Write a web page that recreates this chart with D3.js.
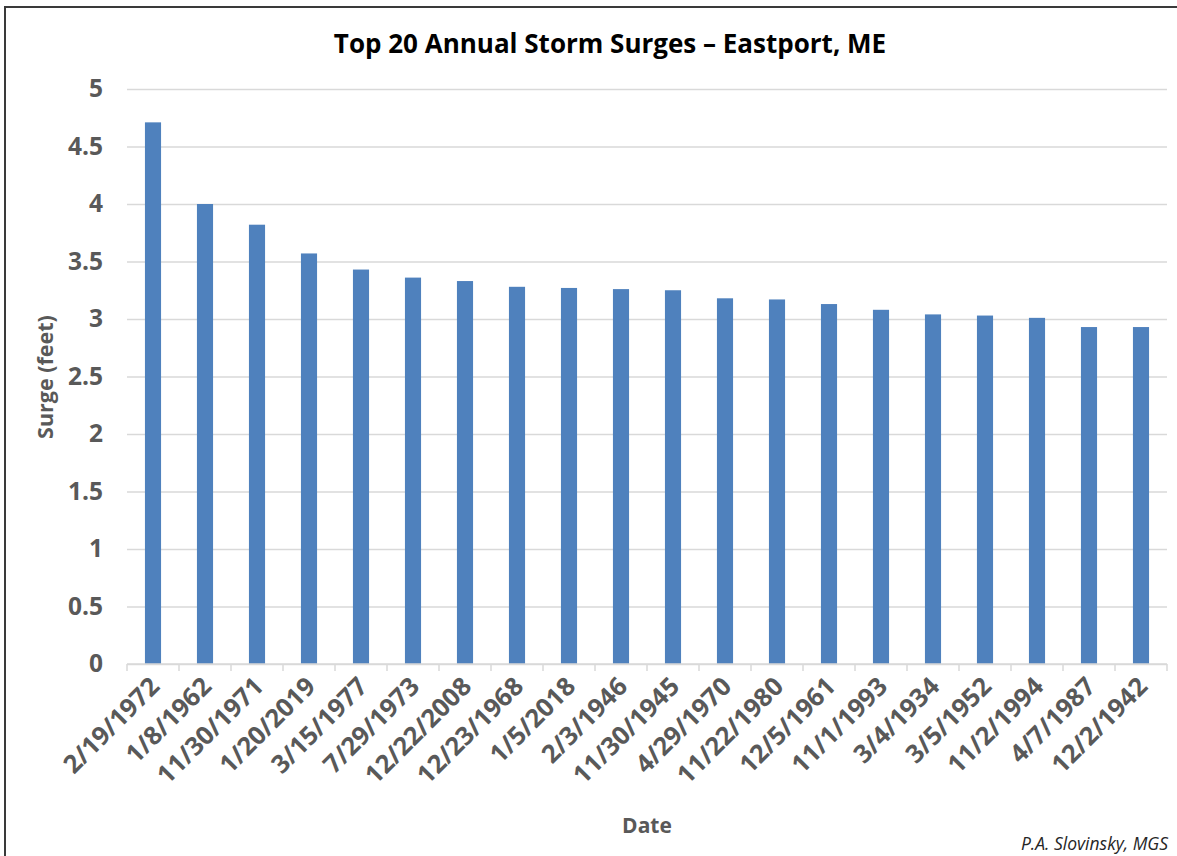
<!DOCTYPE html>
<html>
<head>
<meta charset="utf-8">
<script src="https://cdn.jsdelivr.net/npm/d3@7"></script>
<style>
  html, body { margin: 0; padding: 0; background: #fff; }
  svg { display: block; }
  text { font-family: "Open Sans", "Liberation Sans", sans-serif; }
</style>
</head>
<body>
<svg id="chart" width="1177" height="856"></svg>
<script>
// Storm dates, ranked by surge height
const dates = [
  "2/19/1972", "1/8/1962", "11/30/1971", "1/20/2019", "3/15/1977",
  "7/29/1973", "12/22/2008", "12/23/1968", "1/5/2018", "2/3/1946",
  "11/30/1945", "4/29/1970", "11/22/1980", "12/5/1961", "11/1/1993",
  "3/4/1934", "3/5/1952", "11/2/1994", "4/7/1987", "12/2/1942"
];
// Surge in feet
const surges = [
  4.71, 4.00, 3.82, 3.57, 3.43,
  3.36, 3.33, 3.28, 3.27, 3.26,
  3.25, 3.18, 3.17, 3.13, 3.08,
  3.04, 3.03, 3.01, 2.93, 2.93
];
const yTicks = [0, 0.5, 1, 1.5, 2, 2.5, 3, 3.5, 4, 4.5, 5];

const W = 1177, H = 856;
const plot = { left: 127, right: 1167, top: 89, bottom: 664 };
const gray = "#595959", gridColor = "#d9d9d9", barColor = "#4f81bd";

const svg = d3.select("#chart");

// chart frame
svg.append("rect")
  .attr("x", 5).attr("y", 7)
  .attr("width", W + 10).attr("height", H + 10)
  .attr("fill", "#fff")
  .attr("stroke", "#3a3a3a").attr("stroke-width", 2);

const x = d3.scaleBand()
  .domain(dates)
  .range([plot.left, plot.right])
  .paddingInner(0.69)
  .paddingOuter(0.345);

const y = d3.scaleLinear()
  .domain([0, 5])
  .range([plot.bottom, plot.top]);

// horizontal gridlines + y labels
const yAxis = d3.axisLeft(y)
  .tickValues(yTicks)
  .tickFormat(d3.format("~g"))
  .tickSize(-(plot.right - plot.left))
  .tickPadding(24);

const gy = svg.append("g")
  .attr("transform", `translate(${plot.left},0)`)
  .call(yAxis);
gy.select(".domain").remove();
gy.selectAll(".tick line")
  .attr("stroke", gridColor).attr("stroke-width", 1.5);
gy.selectAll(".tick text")
  .attr("fill", gray)
  .style("font-size", "24.5px")
  .style("font-weight", "700");

// bars
svg.append("g").selectAll("rect")
  .data(dates)
  .join("rect")
  .attr("x", d => x(d))
  .attr("y", (d, i) => y(surges[i]))
  .attr("width", x.bandwidth())
  .attr("height", (d, i) => y(0) - y(surges[i]))
  .attr("fill", barColor);

// category axis with boundary ticks
const gx = svg.append("g").attr("transform", `translate(0,${plot.bottom})`);
gx.append("line")
  .attr("x1", plot.left).attr("x2", plot.right)
  .attr("stroke", gridColor).attr("stroke-width", 1.5);
const step = x.step();
const bounds = d3.range(dates.length + 1).map(i => plot.left + i * step);
gx.selectAll("line.tickmark")
  .data(bounds)
  .join("line")
  .attr("class", "tickmark")
  .attr("x1", d => d).attr("x2", d => d)
  .attr("y1", 0).attr("y2", 7)
  .attr("stroke", gridColor).attr("stroke-width", 1.5);

gx.selectAll("text.cat")
  .data(dates)
  .join("text")
  .attr("class", "cat")
  .attr("text-anchor", "end")
  .attr("transform", d => `translate(${x(d) + x.bandwidth() / 2 + 8},${24}) rotate(-45)`)
  .attr("fill", gray)
  .style("font-size", "25.5px")
  .style("font-weight", "700")
  .text(d => d);

// title
svg.append("text")
  .attr("x", 610).attr("y", 53)
  .attr("text-anchor", "middle")
  .attr("fill", "#000")
  .style("font-size", "26px")
  .style("font-weight", "700")
  .text("Top 20 Annual Storm Surges – Eastport, ME");

// axis titles
svg.append("text")
  .attr("transform", "translate(53,377) rotate(-90)")
  .attr("text-anchor", "middle")
  .attr("fill", gray)
  .style("font-size", "21.5px")
  .style("font-weight", "700")
  .text("Surge (feet)");

svg.append("text")
  .attr("x", 647).attr("y", 833)
  .attr("text-anchor", "middle")
  .attr("fill", gray)
  .style("font-size", "21px")
  .style("font-weight", "700")
  .text("Date");

// credit
svg.append("text")
  .attr("x", 1168).attr("y", 850)
  .attr("text-anchor", "end")
  .attr("fill", "#262626")
  .style("font-size", "17.5px")
  .style("font-style", "italic")
  .text("P.A. Slovinsky, MGS");
</script>
</body>
</html>
